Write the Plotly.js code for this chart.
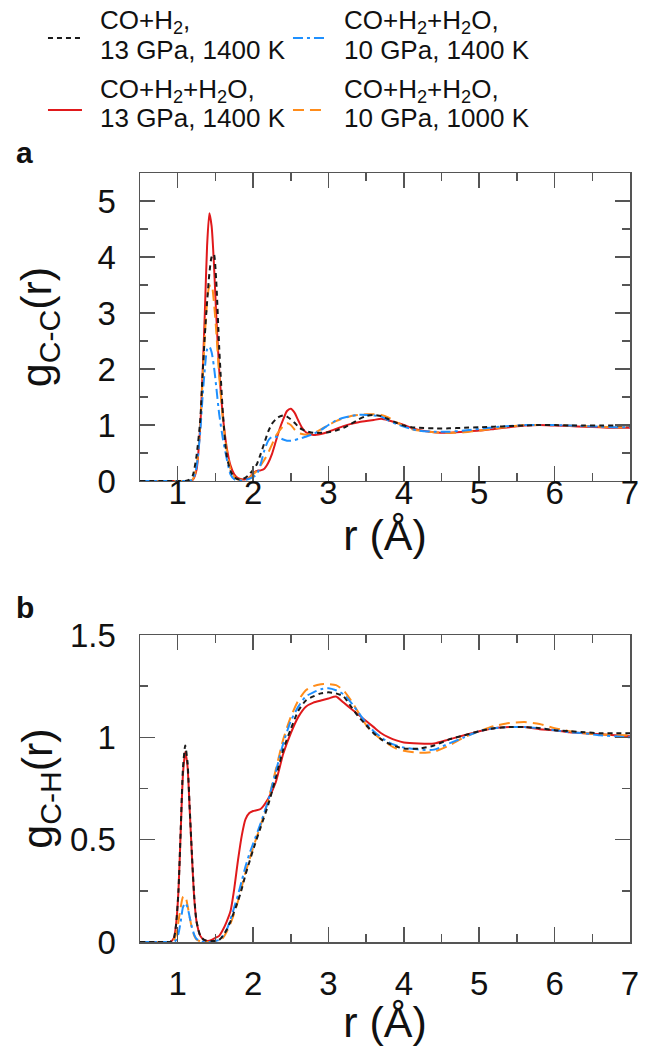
<!DOCTYPE html>
<html>
<head>
<meta charset="utf-8">
<script src="https://cdn.plot.ly/plotly-3.0.1.min.js"></script>
<style>html,body{margin:0;padding:0;background:#fff;}#chart{width:664px;height:1046px;}</style>
</head>
<body>
<div id="chart"></div>
<script>
// ---- Panel a: g_C-C(r) ----
const rA = [0.5,1.0,1.1,1.15,1.2,1.25,1.3,1.33,1.36,1.39,1.42,1.45,1.48,1.51,1.55,1.6,1.65,1.7,1.75,1.8,1.85,1.9,1.95,2.0,2.05,2.1,2.15,2.2,2.25,2.3,2.35,2.4,2.45,2.5,2.55,2.6,2.65,2.7,2.8,2.9,3.0,3.1,3.2,3.3,3.4,3.5,3.6,3.7,3.8,3.9,4.0,4.1,4.2,4.4,4.6,4.8,5.0,5.2,5.4,5.6,5.8,6.0,6.2,6.4,6.6,6.8,7.0];
const gCC_CO_H2_13GPa_1400K = [0,0,0,0.02,0.1,0.45,1.1,1.9,2.6,3.2,3.7,4.0,4.05,3.6,2.4,1.2,0.45,0.18,0.07,0.03,0.03,0.06,0.12,0.2,0.3,0.48,0.68,0.88,1.02,1.1,1.15,1.17,1.15,1.1,1.04,0.97,0.92,0.89,0.86,0.86,0.87,0.9,0.95,1.02,1.1,1.16,1.18,1.16,1.1,1.04,0.99,0.96,0.95,0.94,0.94,0.95,0.96,0.97,0.98,0.99,1.0,1.0,0.99,0.99,0.99,0.99,0.99];
const gCC_H2O_13GPa_1400K = [0,0,0,0,0.02,0.2,1.0,1.9,3.0,4.2,4.78,4.55,3.9,3.0,2.0,1.15,0.6,0.28,0.12,0.05,0.03,0.03,0.06,0.14,0.18,0.19,0.22,0.32,0.48,0.7,0.92,1.1,1.25,1.29,1.22,1.08,0.95,0.87,0.82,0.84,0.88,0.93,0.98,1.02,1.05,1.07,1.09,1.11,1.08,1.04,1.0,0.95,0.91,0.87,0.86,0.88,0.9,0.93,0.96,0.99,1.0,0.99,0.98,0.97,0.96,0.95,0.95];
const gCC_H2O_10GPa_1400K = [0,0,0,0,0.03,0.25,0.9,1.5,2.0,2.35,2.4,2.3,2.05,1.7,1.2,0.75,0.4,0.12,0.03,0.01,0.01,0.02,0.04,0.07,0.12,0.3,0.55,0.72,0.79,0.79,0.77,0.74,0.72,0.72,0.73,0.75,0.77,0.79,0.84,0.91,1.0,1.08,1.13,1.16,1.18,1.18,1.17,1.15,1.08,1.02,0.97,0.93,0.9,0.88,0.88,0.9,0.93,0.96,0.98,1.0,1.0,1.0,0.99,0.98,0.97,0.96,0.96];
const gCC_H2O_10GPa_1000K = [0,0,0,0,0.03,0.25,1.0,1.8,2.6,3.2,3.48,3.5,3.2,2.7,1.9,1.1,0.55,0.22,0.08,0.03,0.02,0.03,0.06,0.12,0.18,0.28,0.38,0.5,0.65,0.8,0.9,0.98,1.03,1.0,0.92,0.86,0.84,0.83,0.85,0.92,1.0,1.07,1.12,1.16,1.18,1.19,1.19,1.18,1.13,1.05,0.98,0.93,0.9,0.87,0.86,0.87,0.9,0.94,0.97,1.0,1.0,1.0,0.99,0.98,0.97,0.96,0.96];

// ---- Panel b: g_C-H(r) ----
const rB = [0.5,0.85,0.9,0.95,0.98,1.01,1.04,1.07,1.1,1.13,1.16,1.19,1.22,1.25,1.3,1.35,1.4,1.45,1.5,1.55,1.6,1.65,1.7,1.75,1.8,1.85,1.9,1.95,2.0,2.1,2.2,2.3,2.4,2.5,2.6,2.7,2.8,2.9,3.0,3.1,3.2,3.3,3.4,3.5,3.6,3.7,3.8,3.9,4.0,4.2,4.4,4.6,4.8,5.0,5.2,5.4,5.6,5.8,6.0,6.2,6.4,6.6,6.8,7.0];
const gCH_CO_H2_13GPa_1400K = [0,0,0,0.02,0.09,0.25,0.55,0.85,0.96,0.88,0.65,0.42,0.22,0.1,0.03,0.01,0.005,0.005,0.005,0.01,0.03,0.06,0.1,0.15,0.2,0.26,0.33,0.39,0.45,0.56,0.67,0.8,0.94,1.04,1.13,1.18,1.2,1.215,1.22,1.215,1.2,1.15,1.1,1.06,1.02,0.99,0.97,0.955,0.945,0.945,0.96,0.99,1.01,1.03,1.045,1.05,1.05,1.045,1.035,1.03,1.025,1.02,1.02,1.02];
const gCH_H2O_13GPa_1400K = [0,0,0,0.02,0.09,0.25,0.54,0.82,0.93,0.86,0.64,0.41,0.21,0.1,0.03,0.01,0.005,0.01,0.02,0.03,0.06,0.1,0.15,0.26,0.4,0.52,0.6,0.63,0.64,0.65,0.7,0.78,0.92,1.02,1.1,1.15,1.17,1.18,1.19,1.2,1.17,1.14,1.11,1.08,1.05,1.02,1.0,0.985,0.975,0.97,0.97,0.99,1.01,1.03,1.045,1.05,1.05,1.04,1.035,1.025,1.02,1.015,1.01,1.005];
const gCH_H2O_10GPa_1400K = [0,0,0,0,0.01,0.04,0.1,0.17,0.19,0.17,0.12,0.07,0.035,0.015,0.005,0,0,0,0.005,0.01,0.03,0.06,0.11,0.17,0.23,0.3,0.37,0.43,0.48,0.58,0.69,0.83,0.97,1.08,1.15,1.2,1.22,1.235,1.24,1.23,1.21,1.17,1.12,1.07,1.03,1.0,0.975,0.96,0.95,0.94,0.94,0.97,1.0,1.03,1.045,1.05,1.05,1.045,1.035,1.025,1.02,1.01,1.005,1.0];
const gCH_H2O_10GPa_1000K = [0,0,0,0.01,0.04,0.1,0.17,0.22,0.225,0.18,0.12,0.065,0.03,0.012,0.003,0,0,0,0.005,0.01,0.02,0.05,0.09,0.14,0.2,0.27,0.34,0.4,0.46,0.57,0.69,0.84,0.99,1.1,1.18,1.23,1.25,1.26,1.26,1.255,1.23,1.18,1.12,1.06,1.02,0.99,0.965,0.945,0.935,0.925,0.93,0.96,1.0,1.03,1.055,1.07,1.075,1.065,1.045,1.03,1.02,1.015,1.01,1.01];

// ---- Series labels & tick labels ----
const seriesLine1 = ['CO+H<sub>2</sub>,', 'CO+H<sub>2</sub>+H<sub>2</sub>O,', 'CO+H<sub>2</sub>+H<sub>2</sub>O,', 'CO+H<sub>2</sub>+H<sub>2</sub>O,'];
const seriesLine2 = ['13 GPa, 1400 K', '10 GPa, 1400 K', '13 GPa, 1400 K', '10 GPa, 1000 K'];
const xTickVals = [1,2,3,4,5,6,7];
const yTickValsA = [0,1,2,3,4,5];
const yTickValsB = [0,0.5,1,1.5];
const yTickTextB = ['0','0.5','1','1.5'];

const styles = [
  {color:'#1a1a1a', dash:'5px,4px', width:2},
  {color:'#1e90ff', dash:'10px,4px,3px,4px', width:2},
  {color:'#e0191b', dash:'solid', width:2},
  {color:'#ff8c1a', dash:'11px,6px', width:2}
];
const dataA = [gCC_CO_H2_13GPa_1400K, gCC_H2O_10GPa_1400K, gCC_H2O_13GPa_1400K, gCC_H2O_10GPa_1000K];
const dataB = [gCH_CO_H2_13GPa_1400K, gCH_H2O_10GPa_1400K, gCH_H2O_13GPa_1400K, gCH_H2O_10GPa_1000K];
const drawOrder = [2,3,1,0];

const traces = [];
drawOrder.forEach(i => {
  traces.push({x:rA, y:dataA[i], type:'scatter', mode:'lines', name:seriesLine1[i] + ' ' + seriesLine2[i], showlegend:false,
    line:{color:styles[i].color, dash:styles[i].dash, width:styles[i].width, shape:'spline', smoothing:0.6},
    xaxis:'x', yaxis:'y'});
});
drawOrder.forEach(i => {
  traces.push({x:rB, y:dataB[i], type:'scatter', mode:'lines', name:seriesLine1[i] + ' ' + seriesLine2[i], showlegend:false,
    line:{color:styles[i].color, dash:styles[i].dash, width:styles[i].width, shape:'spline', smoothing:0.6},
    xaxis:'x2', yaxis:'y2'});
});

const FONT = 'Liberation Sans, Arial, sans-serif';
const TICKSIZE = 33, TITLESIZE = 43, LEGSIZE = 26;
const axCommon = {
  showline:true, linecolor:'#555', linewidth:1.5, mirror:'ticks',
  ticks:'inside', tickcolor:'#555', tickwidth:1.5, ticklen:15,
  showgrid:false, zeroline:false,
  tickfont:{family:FONT, size:TICKSIZE, color:'#111'}
};
const xMinor = {ticks:'inside', dtick:0.5, tick0:0, ticklen:8, tickcolor:'#555', tickwidth:1.5, showgrid:false};

// ---- Legend (2 x 2 grid above the plots) ----
// paper coords: x = (px-140)/490, y = (942-py)/769
const legCols = [{lx0:-0.1878, lx1:-0.1184, tx:-0.0857}, {lx0:0.3122, lx1:0.3816, tx:0.4122}];
const legRows = [{ly:1.1756, t1:1.1964, t2:1.1599}, {ly:1.0819, t1:1.1079, t2:1.0715}];
const legendSlots = [[0,0],[0,1],[1,0],[1,1]]; // series index -> [row, col]
const shapes = [];
const annotations = [];
legendSlots.forEach((slot, i) => {
  const row = legRows[slot[0]], col = legCols[slot[1]];
  shapes.push({type:'line', xref:'paper', yref:'paper', x0:col.lx0, x1:col.lx1, y0:row.ly, y1:row.ly,
    line:{color:styles[i].color, dash:styles[i].dash, width:2}});
  annotations.push({text:seriesLine1[i], xref:'paper', yref:'paper', x:col.tx, y:row.t1, xanchor:'left', yanchor:'middle',
    showarrow:false, font:{family:FONT, size:LEGSIZE, color:'#111'}});
  annotations.push({text:seriesLine2[i], xref:'paper', yref:'paper', x:col.tx, y:row.t2, xanchor:'left', yanchor:'middle',
    showarrow:false, font:{family:FONT, size:LEGSIZE, color:'#111'}});
});
annotations.push({text:'<b>a</b>', xref:'paper', yref:'paper', x:-0.235, y:1.027, xanchor:'center', yanchor:'middle', showarrow:false, font:{family:FONT, size:30, color:'#111'}});
annotations.push({text:'<b>b</b>', xref:'paper', yref:'paper', x:-0.235, y:0.4356, xanchor:'center', yanchor:'middle', showarrow:false, font:{family:FONT, size:30, color:'#111'}});

const layout = {
  width:664, height:1046,
  margin:{l:140, r:34, t:173, b:104},
  paper_bgcolor:'#fff', plot_bgcolor:'#fff',
  font:{family:FONT, color:'#111'},
  showlegend:false,
  xaxis: Object.assign({}, axCommon, {anchor:'y', range:[0.5,7], tickmode:'array', tickvals:xTickVals,
    minor:xMinor, ticklabelstandoff:-18,
    title:{text:'r (Å)', font:{family:FONT, size:TITLESIZE, color:'#111'}, standoff:0}}),
  yaxis: Object.assign({}, axCommon, {
    domain:[0.5995,1], range:[0,5.5], anchor:'x', tickmode:'array', tickvals:yTickValsA,
    ticklabelstandoff:16,
    minor:{ticks:'inside', dtick:0.5, tick0:0, ticklen:8, tickcolor:'#555', tickwidth:1.5, showgrid:false},
    title:{text:'g<sub>C-C</sub>(r)', font:{family:FONT, size:TITLESIZE, color:'#111'}, standoff:32}
  }),
  xaxis2: Object.assign({}, axCommon, {anchor:'y2', range:[0.5,7], tickmode:'array', tickvals:xTickVals,
    minor:xMinor, ticklabelstandoff:12,
    title:{text:'r (Å)', font:{family:FONT, size:TITLESIZE, color:'#111'}, standoff:0}}),
  yaxis2: Object.assign({}, axCommon, {
    domain:[0,0.3992], range:[0,1.5], anchor:'x2', tickmode:'array', tickvals:yTickValsB, ticktext:yTickTextB,
    ticklabelstandoff:16,
    minor:{ticks:'inside', dtick:0.25, tick0:0, ticklen:8, tickcolor:'#555', tickwidth:1.5, showgrid:false},
    title:{text:'g<sub>C-H</sub>(r)', font:{family:FONT, size:TITLESIZE, color:'#111'}, standoff:4}
  }),
  shapes: shapes,
  annotations: annotations
};

Plotly.newPlot('chart', traces, layout, {displayModeBar:false, staticPlot:true});
</script>
</body>
</html>
